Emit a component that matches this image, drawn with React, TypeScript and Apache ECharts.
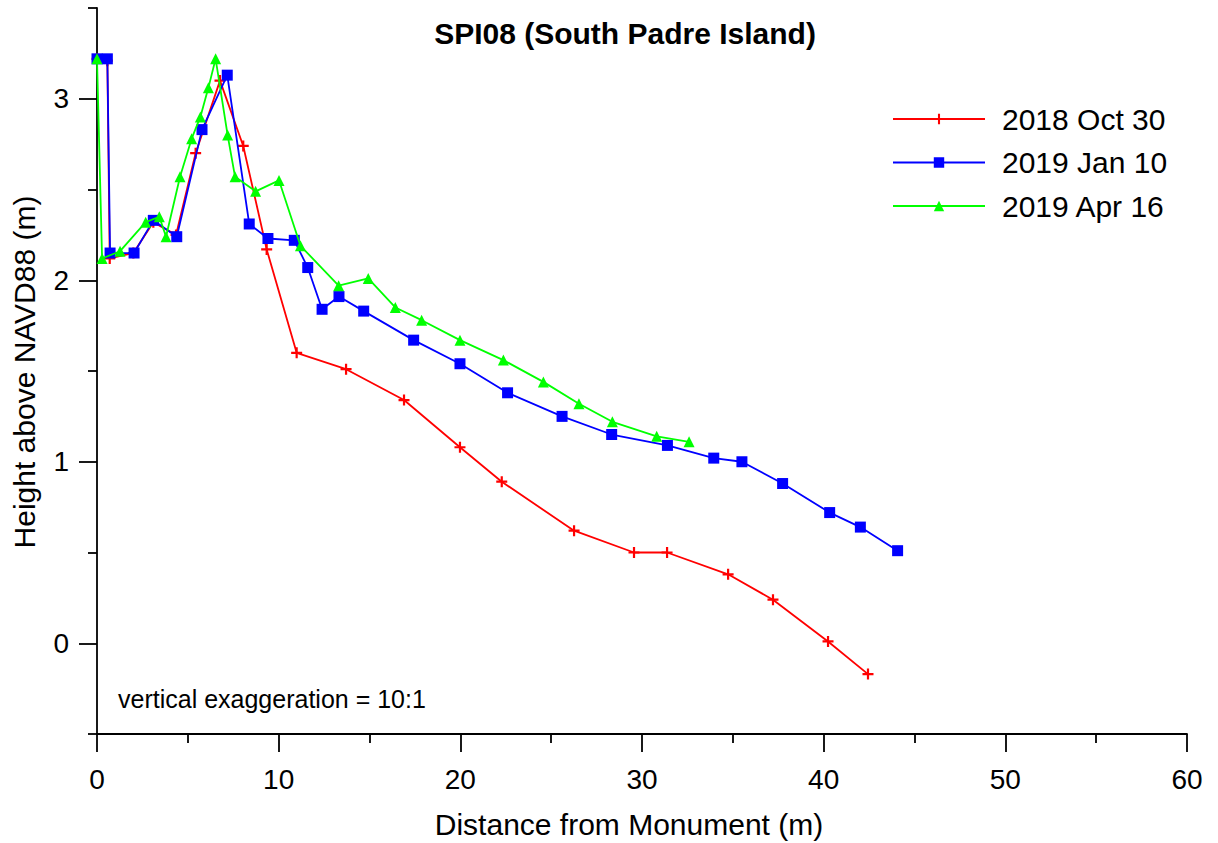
import React, { useEffect, useRef } from "react";
import * as echarts from "echarts";

const titleText = "SPI08 (South Padre Island)";
const xAxisName = "Distance from Monument (m)";
const yAxisName = "Height above NAVD88 (m)";
const noteText = "vertical exaggeration = 10:1";

const seriesNames = ["2018 Oct 30", "2019 Jan 10", "2019 Apr 16"];
const seriesColors = ["#ff0000", "#0000ff", "#00ff00"];

const octX = [0, 0.57, 0.7, 2.0, 3.1, 4.35, 5.43, 6.77, 8.05, 9.34, 10.99, 13.71, 16.9, 19.98, 22.28, 26.26, 29.56, 31.38, 34.74, 37.21, 40.24, 42.44];
const octY = [3.22, 3.21, 2.12, 2.15, 2.32, 2.25, 2.7, 3.1, 2.74, 2.17, 1.6, 1.51, 1.34, 1.08, 0.89, 0.62, 0.5, 0.5, 0.38, 0.24, 0.01, -0.17];

const janX = [0, 0.57, 0.72, 2.04, 3.1, 4.39, 5.78, 7.17, 8.38, 9.41, 10.86, 11.6, 12.39, 13.32, 14.68, 17.43, 19.98, 22.6, 25.6, 28.33, 31.4, 33.95, 35.5, 37.74, 40.33, 42.02, 44.07];
const janY = [3.22, 3.22, 2.15, 2.15, 2.33, 2.24, 2.83, 3.13, 2.31, 2.23, 2.22, 2.07, 1.84, 1.91, 1.83, 1.67, 1.54, 1.38, 1.25, 1.15, 1.09, 1.02, 1.0, 0.88, 0.72, 0.64, 0.51];

const aprX = [0, 0.28, 1.27, 2.68, 3.43, 3.8, 4.57, 5.21, 5.69, 6.13, 6.53, 7.19, 7.6, 8.73, 10.02, 11.2, 13.3, 14.93, 16.42, 17.87, 19.98, 22.37, 24.57, 26.53, 28.37, 30.81, 32.59];
const aprY = [3.22, 2.12, 2.16, 2.32, 2.35, 2.24, 2.57, 2.78, 2.9, 3.06, 3.22, 2.8, 2.57, 2.49, 2.55, 2.19, 1.97, 2.01, 1.85, 1.78, 1.67, 1.56, 1.44, 1.32, 1.22, 1.14, 1.11];

const xMajorTicks = [0, 10, 20, 30, 40, 50, 60];
const xMinorTicks = [5, 15, 25, 35, 45, 55];
const yMajorTicks = [0, 1, 2, 3];
const yMinorTicks = [-0.5, 0.5, 1.5, 2.5, 3.5];

const FONT = "'Liberation Sans', Arial, Helvetica, sans-serif";
const PLUS = "path://M4,0H6V4H10V6H6V10H4V6H0V4H4Z";

const pairs = (xs: number[], ys: number[]) => xs.map((x, i) => [x, ys[i]]);

export default function App() {
  const ref = useRef<HTMLDivElement>(null);
  useEffect(() => {
    if (!ref.current) return;
    const chart = echarts.init(ref.current, null, { renderer: "svg" });
    const axisLine = { show: true, onZero: false, lineStyle: { color: "#000", width: 1.8 } };
    const tickStyle = { color: "#000", width: 1.8 };
    const labelStyle = { color: "#000", fontSize: 28, fontFamily: FONT };
    const xBase = { type: "value", min: 0, max: 60, position: "bottom", gridIndex: 0, splitLine: { show: false } };
    const yBase = { type: "value", min: -0.5, max: 3.5, position: "left", gridIndex: 0, splitLine: { show: false } };
    const symbols = [PLUS, "rect", "triangle"];
    const sizes = [11, 11, 11];
    const datas = [pairs(octX, octY), pairs(janX, janY), pairs(aprX, aprY)];
    chart.setOption({
      animation: false,
      backgroundColor: "#fff",
      grid: { left: 97, right: 31, top: 8, bottom: 109, containLabel: false },
      xAxis: [
        {
          ...xBase,
          axisLine,
          axisTick: { show: true, customValues: xMinorTicks, length: 9, lineStyle: tickStyle },
          axisLabel: { show: true, customValues: xMajorTicks, margin: 31, ...labelStyle },
        },
        {
          ...xBase,
          axisLine: { show: false, onZero: false },
          axisTick: { show: true, customValues: xMajorTicks, length: 18, lineStyle: tickStyle },
          axisLabel: { show: false },
        },
      ],
      yAxis: [
        {
          ...yBase,
          axisLine,
          axisTick: { show: true, customValues: yMinorTicks, length: 9, lineStyle: tickStyle },
          axisLabel: { show: true, customValues: yMajorTicks, margin: 28, ...labelStyle },
        },
        {
          ...yBase,
          axisLine: { show: false, onZero: false },
          axisTick: { show: true, customValues: yMajorTicks, length: 18, lineStyle: tickStyle },
          axisLabel: { show: false },
        },
      ],
      legend: {
        orient: "vertical",
        left: 892,
        top: 104,
        padding: 0,
        itemWidth: 92,
        itemHeight: 13,
        itemGap: 13.5,
        data: seriesNames,
        textStyle: { color: "#000", fontSize: 30, fontFamily: FONT, lineHeight: 30, padding: [0, 0, 0, 12] },
      },
      series: seriesNames.map((name, i) => ({
        name,
        type: "line",
        xAxisIndex: 0,
        yAxisIndex: 0,
        data: datas[i],
        symbol: symbols[i],
        symbolSize: sizes[i],
        showSymbol: true,
        lineStyle: { color: seriesColors[i], width: 1.8 },
        itemStyle: { color: seriesColors[i] },
        z: 2 + i,
      })),
      graphic: [
        {
          type: "text",
          x: 625,
          y: 33,
          style: { text: titleText, fill: "#000", fontSize: 30, fontWeight: "bold", fontFamily: FONT, align: "center", verticalAlign: "middle" },
        },
        {
          type: "text",
          x: 629,
          y: 824,
          style: { text: xAxisName, fill: "#000", fontSize: 30, fontFamily: FONT, align: "center", verticalAlign: "middle" },
        },
        {
          type: "text",
          x: 24,
          y: 372,
          rotation: Math.PI / 2,
          style: { text: yAxisName, fill: "#000", fontSize: 30, fontFamily: FONT, align: "center", verticalAlign: "middle" },
        },
        {
          type: "text",
          x: 118,
          y: 699,
          style: { text: noteText, fill: "#000", fontSize: 25, fontFamily: FONT, align: "left", verticalAlign: "middle" },
        },
      ],
    });
    return () => chart.dispose();
  }, []);
  return (
    <div
      ref={ref}
      style={{ position: "fixed", left: 0, top: 0, width: 1218, height: 843, background: "#fff" }}
    />
  );
}
